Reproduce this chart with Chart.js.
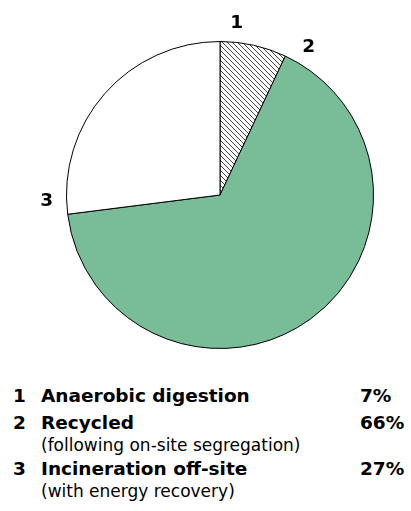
<!DOCTYPE html>
<html>
<head>
<meta charset="utf-8">
<script src="https://cdn.jsdelivr.net/npm/chart.js@4"></script>
<style>
    body { margin: 0; background: #fff; font-family: "DejaVu Sans", sans-serif; color: #000; }
    #wrap { width: 411px; height: 511px; overflow: hidden; }
    #legend { padding-top: 24px; }
    .item { margin-bottom: 4px; }
    .row { display: flex; font-weight: 700; font-size: 18.5px; line-height: 23px; white-space: nowrap; }
    .num { width: 28px; padding-left: 13px; flex: none; }
    .lbl { width: 319px; flex: none; }
    .note { font-size: 17px; line-height: 19px; padding-left: 41px; white-space: nowrap; position: relative; top: 1.5px; }
</style>
</head>
<body>
<div id="wrap">
    <canvas id="pieChart" width="411" height="360"></canvas>
    <div id="legend"></div>
</div>
<script>
const numbers = ['1', '2', '3'];
const labels = ['Anaerobic digestion', 'Recycled', 'Incineration off-site'];
const notes = ['', '(following on-site segregation)', '(with energy recovery)'];
const values = [7, 66, 27];

// diagonal hatch for the first slice
function hatch() {
    const c = document.createElement('canvas');
    c.width = 5;
    c.height = 5;
    const g = c.getContext('2d');
    g.fillStyle = '#fff';
    g.fillRect(0, 0, 5, 5);
    g.strokeStyle = '#333';
    g.lineWidth = 0.9;
    g.beginPath();
    g.moveTo(-1, -1); g.lineTo(6, 6);
    g.moveTo(-1, 4); g.lineTo(1, 6);
    g.moveTo(4, -1); g.lineTo(6, 1);
    g.stroke();
    return g.createPattern(c, 'repeat');
}

const ctx = document.getElementById('pieChart').getContext('2d');

// slice numbers just past the start of each slice
const sliceNumbers = {
    id: 'sliceNumbers',
    afterDraw(chart) {
        const c = chart.ctx;
        const arcs = chart.getDatasetMeta(0).data;
        c.save();
        c.font = '700 18.5px "DejaVu Sans", sans-serif';
        c.fillStyle = '#000';
        c.textAlign = 'center';
        c.textBaseline = 'middle';
        arcs.forEach((arc, i) => {
            const p = arc.getProps(['x', 'y', 'startAngle', 'outerRadius'], true);
            const a = p.startAngle + 5.5 * Math.PI / 180;
            const r = p.outerRadius + 20;
            c.fillText(numbers[i], p.x + r * Math.cos(a), p.y + 1 + r * Math.sin(a));
        });
        c.restore();
    }
};

new Chart(ctx, {
    type: 'pie',
    data: {
        labels: labels,
        datasets: [{
            data: values,
            backgroundColor: [hatch(), '#78bd98', '#ffffff'],
            borderColor: '#000',
            borderWidth: 1
        }]
    },
    options: {
        responsive: false,
        animation: false,
        layout: { padding: { left: 66, right: 37, top: 41, bottom: 11 } },
        plugins: {
            legend: { display: false },
            tooltip: { enabled: false }
        }
    },
    plugins: [sliceNumbers]
});

const legend = document.getElementById('legend');
labels.forEach((l, i) => {
    const item = document.createElement('div');
    item.className = 'item';
    item.innerHTML = `<div class="row"><span class="num">${numbers[i]}</span><span class="lbl">${l}</span><span>${values[i]}%</span></div>`
        + (notes[i] ? `<div class="note">${notes[i]}</div>` : '');
    legend.appendChild(item);
});
</script>
</body>
</html>
